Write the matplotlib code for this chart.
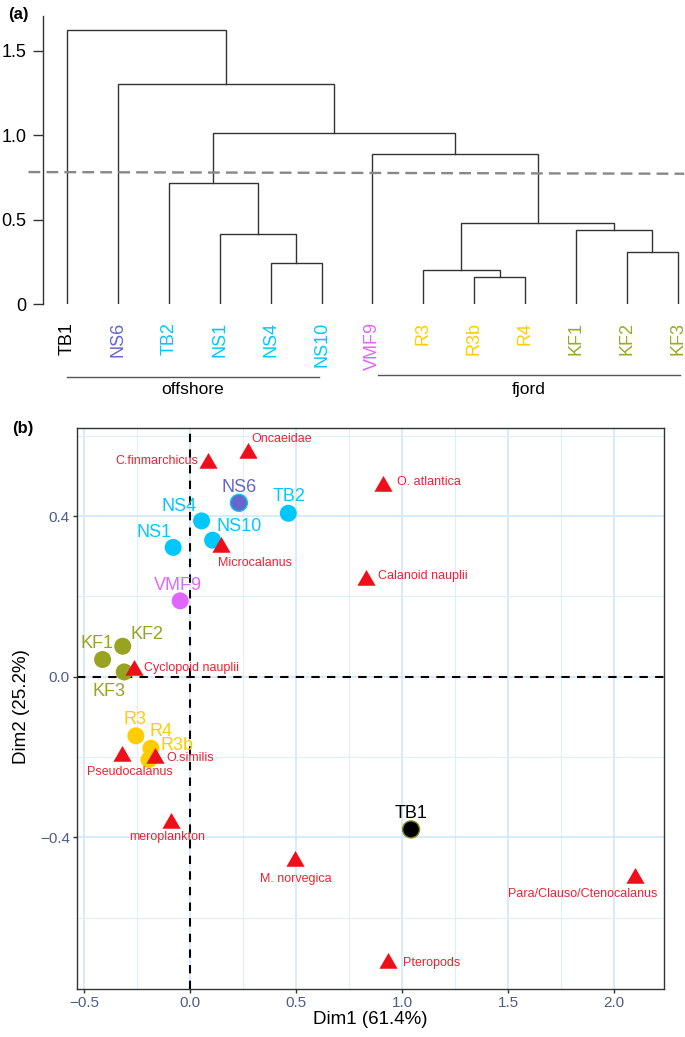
import matplotlib
matplotlib.use("Agg")
import matplotlib.pyplot as plt
from matplotlib.path import Path

plt.rcParams['font.family'] = ['Liberation Sans', 'DejaVu Sans']

# ---- dendrogram data (panel a) ----
leaves = ['TB1', 'NS6', 'TB2', 'NS1', 'NS4', 'NS10', 'VMF9',
          'R3', 'R3b', 'R4', 'KF1', 'KF2', 'KF3']
leaf_colors = ['black', '#6666CC', '#00C8FF', '#00C8FF', '#00C8FF', '#00C8FF',
               '#E066FF', '#FFCC00', '#FFCC00', '#FFCC00', '#99AA22', '#99AA22', '#99AA22']
# merges: (left, right, height, new node name)
merges = [('NS4', 'NS10', 0.245, 'A'),
          ('NS1', 'A', 0.414, 'B'),
          ('TB2', 'B', 0.72, 'C'),
          ('R3b', 'R4', 0.162, 'D'),
          ('R3', 'D', 0.205, 'E'),
          ('KF2', 'KF3', 0.311, 'F'),
          ('KF1', 'F', 0.438, 'G'),
          ('E', 'G', 0.483, 'H'),
          ('VMF9', 'H', 0.888, 'I'),
          ('C', 'I', 1.016, 'J'),
          ('NS6', 'J', 1.304, 'K'),
          ('TB1', 'K', 1.626, 'L')]
cut_height = [0.783, 0.773]
groups = ['offshore', 'fjord']
group_span = [(1, 5.95), (7.1, 13.05)]

# ---- PCA data (panel b) ----
samples = ['NS6', 'TB2', 'NS4', 'NS10', 'NS1', 'VMF9', 'KF2', 'KF1', 'KF3',
           'R3', 'R4', 'R3b', 'TB1']
sample_x = [0.231, 0.464, 0.055, 0.107, -0.079, -0.046, -0.317, -0.412, -0.31,
            -0.255, -0.184, -0.193, 1.043]
sample_y = [0.433, 0.407, 0.388, 0.340, 0.322, 0.189, 0.076, 0.043, 0.012,
            -0.147, -0.178, -0.206, -0.38]
sample_colors = ['#6666CC', '#00C8FF', '#00C8FF', '#00C8FF', '#00C8FF', '#E066FF',
                 '#99A322', '#99A322', '#99A322', '#FFCC00', '#FFCC00', '#FFCC00', 'black']
sample_lab_x = [0.231, 0.466, -0.053, 0.234, -0.168, -0.058, -0.204, -0.44, -0.38,
                -0.259, -0.138, -0.063, 1.041]
sample_lab_y = [0.471, 0.448, 0.425, 0.373, 0.359, 0.228, 0.106, 0.083, -0.036,
                -0.106, -0.137, -0.172, -0.34]

species = ['Oncaeidae', 'C.finmarchicus', 'O. atlantica', 'Microcalanus',
           'Calanoid nauplii', 'Cyclopoid nauplii', 'Pseudocalanus', 'O.similis',
           'meroplankton', 'M. norvegica', 'Para/Clauso/Ctenocalanus', 'Pteropods']
species_x = [0.272, 0.083, 0.912, 0.146, 0.829, -0.263, -0.318, -0.165,
             -0.09, 0.495, 2.1, 0.935]
species_y = [0.556, 0.533, 0.476, 0.322, 0.241, 0.018, -0.197, -0.201,
             -0.365, -0.458, -0.502, -0.712]
species_lab_x = [0.288, 0.04, 0.975, 0.132, 0.888, -0.217, -0.283, -0.113,
                 -0.107, 0.498, 1.852, 1.006]
species_lab_y = [0.592, 0.538, 0.484, 0.284, 0.251, 0.021, -0.236, -0.203,
                 -0.398, -0.504, -0.541, -0.712]
species_ha = ['left', 'right', 'left', 'left', 'left', 'left', 'center', 'left',
              'center', 'center', 'center', 'left']

W, H = 685, 1037
fig = plt.figure(figsize=(W / 100, H / 100), dpi=100)

# ================= panel (a) =================
ax1 = fig.add_axes([43 / W, 1 - 304.3 / H, (W - 43) / W, (304.3 - 16) / H])
ax1.set_xlim(0.524, 13.145)
ax1.set_ylim(0, 1.707)

pos = {name: i + 1 for i, name in enumerate(leaves)}
hgt = {name: 0.0 for name in leaves}
for a, b, h, new in merges:
    xa, xb = pos[a], pos[b]
    ax1.plot([xa, xa, xb, xb], [hgt[a], h, h, hgt[b]], color='#333333', lw=1.0,
             solid_joinstyle='miter')
    pos[new] = (xa + xb) / 2
    hgt[new] = h

ax1.plot([0.239, 13.13], cut_height, color='#888888', lw=1.7, dashes=(5, 2.6),
         clip_on=False)

for i, (name, col) in enumerate(zip(leaves, leaf_colors)):
    ax1.annotate(name, (i + 1, 0), xytext=(0, -12.5), textcoords='offset points',
                 rotation=90, ha='center', va='top', fontsize=13, color=col,
                 annotation_clip=False)

for g, (x0, x1), ly in zip(groups, group_span, [-0.429, -0.419]):
    ax1.plot([x0, x1], [ly, ly], color='#555555', lw=1.0, clip_on=False)
    ax1.text((x0 + x1) / 2, -0.507, g, ha='center', va='center', fontsize=12.5,
             clip_on=False)

for s in ['top', 'right', 'bottom']:
    ax1.spines[s].set_visible(False)
ax1.spines['left'].set_linewidth(1.0)
ax1.spines['left'].set_color('#333333')
ax1.set_xticks([])
ax1.set_yticks([0, 0.5, 1.0, 1.5])
ax1.set_yticklabels(['0', '0.5', '1.0', '1.5'])
ax1.tick_params(axis='y', length=7, width=1.0, color='#333333', pad=5, labelsize=13)

fig.text(18.6 / W, 1 - 15 / H, '(a)', fontsize=12, fontweight='bold',
         ha='center', va='center')

# ================= panel (b) =================
ax2 = fig.add_axes([76.7 / W, 1 - 989.3 / H, (664 - 76.7) / W, (989.3 - 427.7) / H])
ax2.set_xlim(-0.534, 2.236)
ax2.set_ylim(-0.778, 0.62)

ax2.set_xticks([-0.5, 0.0, 0.5, 1.0, 1.5, 2.0])
ax2.set_xticklabels(['\u22120.5', '0.0', '0.5', '1.0', '1.5', '2.0'])
ax2.set_xticks([-0.25, 0.25, 0.75, 1.25, 1.75], minor=True)
ax2.set_yticks([-0.4, 0.0, 0.4])
ax2.set_yticklabels(['\u22120.4', '0.0', '0.4'])
ax2.set_yticks([-0.6, -0.2, 0.2, 0.6], minor=True)
ax2.grid(which='major', color='#d6e9fb', lw=1.3)
ax2.grid(which='minor', color='#ddeefc', lw=0.8)
ax2.set_axisbelow(True)
ax2.tick_params(which='major', length=3, width=1.0, color='#333333',
                labelcolor='#4d5d85', labelsize=11, pad=2)
ax2.tick_params(which='minor', length=0)
for s in ax2.spines.values():
    s.set_color('#333333')
    s.set_linewidth(1.0)

ax2.axhline(0, color='black', lw=1.5, dashes=(4, 3.5), zorder=1)
ax2.axvline(0, color='black', lw=1.5, dashes=(4, 3.5), zorder=1)

edge_cols = ['#00C8FF' if s == 'NS6' else ('#8a8a10' if s == 'TB1' else 'none')
             for s in samples]
ax2.scatter(sample_x, sample_y, s=150, c=sample_colors, edgecolors=edge_cols,
            linewidths=1.0, zorder=3)
for name, x, y, col in zip(samples, sample_lab_x, sample_lab_y, sample_colors):
    ax2.text(x, y, name, ha='center', va='center', fontsize=13, color=col, zorder=4)

tri = Path([(-1, -0.577), (1, -0.577), (0, 1.155), (-1, -0.577)],
           [Path.MOVETO, Path.LINETO, Path.LINETO, Path.CLOSEPOLY])
ax2.scatter(species_x, species_y, s=230, marker=tri, color='#EE0F1A',
            linewidths=0, zorder=5)
for name, x, y, ha in zip(species, species_lab_x, species_lab_y, species_ha):
    ax2.text(x, y, name, ha=ha, va='center', fontsize=9, color='#EE2233', zorder=6)

fig.text(370 / W, 1 - 1020 / H, 'Dim1 (61.4%)', ha='center', va='center', fontsize=13.5)
fig.text(21.7 / W, 1 - 706.6 / H, 'Dim2 (25.2%)', ha='center', va='center',
         fontsize=13.5, rotation=90)
fig.text(23 / W, 1 - 428 / H, '(b)', fontsize=12, fontweight='bold',
         ha='center', va='center')

fig.savefig('out.png', dpi=100)
